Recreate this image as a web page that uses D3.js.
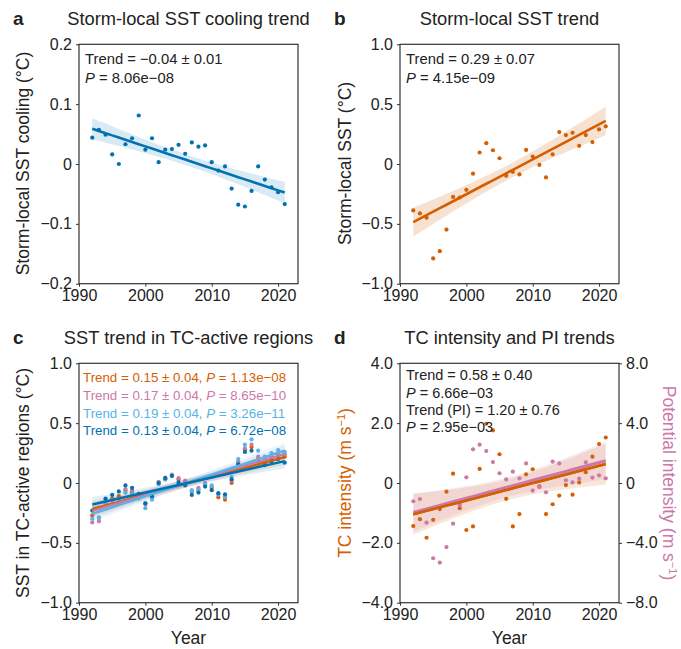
<!DOCTYPE html>
<html>
<head>
<meta charset="utf-8">
<script src="https://cdn.jsdelivr.net/npm/d3@7"></script>
<style>
  body { margin: 0; background: #fff; }
  svg text { font-family: "Liberation Sans", Arial, sans-serif; fill: #222; }
</style>
</head>
<body>
<svg id="fig" width="681" height="649"></svg>
<script>
// years shared by all panels
const years = [1992,1993,1994,1995,1996,1997,1998,1999,2000,2001,2002,2003,2004,2005,2006,
               2007,2008,2009,2010,2011,2012,2013,2014,2015,2016,2017,2018,2019,2020,2021];

// a: storm-local SST cooling
const coolingA = [0.044,0.057,0.049,0.016,0.000,0.033,0.043,0.081,0.024,0.043,0.003,0.024,0.025,0.032,0.017,
                  0.036,0.029,0.031,0.003,-0.011,-0.004,-0.041,-0.068,-0.071,-0.045,-0.004,-0.026,-0.039,-0.047,-0.067];
// b: storm-local SST
const sstB = [-0.388,-0.413,-0.449,-0.789,-0.728,-0.548,-0.275,-0.280,-0.216,-0.081,0.096,0.174,0.115,0.048,-0.098,
              -0.065,-0.087,0.118,0.062,-0.008,-0.112,0.081,0.267,0.242,0.261,0.152,0.242,0.183,0.289,0.315];
// c: SST in TC-active regions, four datasets
const sstC1 = [-0.27,-0.29,-0.15,-0.13,-0.11,-0.06,-0.08,-0.10,-0.17,-0.12,0.00,0.03,0.06,0.03,0.01,
               -0.07,-0.05,-0.01,-0.04,-0.12,-0.14,0.00,0.17,0.28,0.30,0.20,0.17,0.20,0.23,0.22];
const sstC2 = [-0.33,-0.32,-0.16,-0.14,-0.13,-0.05,-0.06,-0.10,-0.18,-0.12,0.01,0.045,0.07,0.04,0.02,
               -0.07,-0.04,0.00,-0.03,-0.10,-0.12,0.02,0.18,0.29,0.32,0.22,0.19,0.22,0.24,0.24];
const sstC3 = [-0.30,-0.29,-0.17,-0.15,-0.16,-0.08,-0.09,-0.13,-0.21,-0.14,-0.01,0.03,0.06,-0.01,-0.01,
               -0.06,-0.06,-0.01,-0.02,-0.09,-0.11,0.05,0.20,0.32,0.365,0.27,0.22,0.25,0.275,0.26];
const sstC4 = [-0.23,-0.21,-0.13,-0.10,-0.07,-0.02,-0.04,-0.09,-0.17,-0.11,0.00,0.04,0.06,0.005,-0.02,
               -0.10,-0.08,-0.03,-0.06,-0.085,-0.095,0.03,0.155,0.26,0.27,0.18,0.15,0.18,0.20,0.17];
const trendC = ["Trend = 0.15 ± 0.04, ", "Trend = 0.17 ± 0.04, ", "Trend = 0.19 ± 0.04, ", "Trend = 0.13 ± 0.04, "];
const pC = [" = 1.13e−08", " = 8.65e−10", " = 3.26e−11", " = 6.72e−08"];
// d: TC intensity (left axis) and potential intensity (right axis)
const tcInt = [-1.44,-1.21,-1.83,-1.23,-0.87,-0.29,0.31,-0.84,-1.57,-1.45,0.47,1.98,1.76,0.96,-0.53,
               -1.45,-1.04,0.29,0.46,-0.11,-1.04,-0.71,-0.42,-0.07,-0.39,0.02,0.36,0.88,1.30,1.52];
const potInt = [-1.22,-1.07,-2.65,-5.03,-5.32,-4.28,-2.72,-1.45,0.38,2.25,2.56,2.14,1.40,0.65,0.24,
                0.76,0.31,1.31,-0.51,-0.27,-0.62,1.43,1.31,0.18,0.04,0.29,1.38,0.36,0.51,0.31];

const xTicks = [1990, 2000, 2010, 2020];
const yTicksA = [-0.2, -0.1, 0, 0.1, 0.2];
const yLabelsA = ["−0.2", "−0.1", "0", "0.1", "0.2"];
const yTicksBC = [-1, -0.5, 0, 0.5, 1];
const yLabelsBC = ["−1.0", "−0.5", "0", "0.5", "1.0"];
const yTicksD = [-4, -2, 0, 2, 4];
const yLabelsD = ["−4.0", "−2.0", "0", "2.0", "4.0"];
const yTicksD2 = [-8, -4, 0, 4, 8];
const yLabelsD2 = ["−8.0", "−4.0", "0", "4.0", "8.0"];

const orange = "#D55E00", pink = "#CC79A7", skyblue = "#56B4E9", blue = "#0072B2";

let svg = d3.select("#fig");

// ordinary least squares + 95% band of the fitted mean
function fitTrend(xs, ys){
    let n = xs.length;
    let mx = d3.mean(xs), my = d3.mean(ys);
    let sxx = d3.sum(xs, x => (x - mx) * (x - mx));
    let sxy = d3.sum(xs.map((x, i) => (x - mx) * (ys[i] - my)));
    let b = sxy / sxx, a = my - b * mx;
    let s = Math.sqrt(d3.sum(xs.map((x, i) => Math.pow(ys[i] - a - b * x, 2))) / (n - 2));
    let t = 2.048;
    return xs.map(x => {
        let yh = a + b * x;
        let h = t * s * Math.sqrt(1 / n + (x - mx) * (x - mx) / sxx);
        return {x: x, y: yh, lo: yh - h, hi: yh + h};
    });
}

function makePanel(opt){
    let g = svg.append("g");
    let x = d3.scaleLinear().domain([1990, 2023]).range([opt.left, opt.left + 219]);
    let y = d3.scaleLinear().domain(opt.yDomain).range([opt.top + 239.4, opt.top]);

    g.append("g")
        .attr("transform", `translate(0,${opt.top + 239.4})`)
        .call(d3.axisBottom(x).tickValues(xTicks).tickFormat(d3.format("d")).tickSize(3).tickPadding(3))
        .call(ax => ax.select(".domain").remove());
    g.append("g")
        .attr("transform", `translate(${opt.left},0)`)
        .call(d3.axisLeft(y).tickValues(opt.yTicks).tickFormat((d, i) => opt.yLabels[i]).tickSize(3).tickPadding(4))
        .call(ax => ax.select(".domain").remove());
    g.selectAll(".tick line").attr("stroke", "#333").attr("stroke-width", 1);
    g.selectAll(".tick text").style("font-size", "16px").attr("fill", "#222");

    g.append("rect")
        .attr("x", opt.left).attr("y", opt.top)
        .attr("width", 219).attr("height", 239.4)
        .attr("fill", "none").attr("stroke", "#333").attr("stroke-width", 1.2);

    // panel letter and title
    g.append("text").attr("x", opt.left - 66).attr("y", opt.top - 19)
        .style("font-size", "19px").style("font-weight", "bold").text(opt.letter);
    g.append("text").attr("x", opt.left + 109.5).attr("y", opt.top - 19)
        .attr("text-anchor", "middle").style("font-size", "18.3px").text(opt.title);

    return {g: g, x: x, y: y};
}

function drawSeries(p, vals, color, yScale, bandOpacity){
    let fit = fitTrend(years, vals);
    let ys = yScale || p.y;
    p.g.append("path")
        .datum(fit)
        .attr("fill", color).attr("fill-opacity", bandOpacity)
        .attr("d", d3.area().x(d => p.x(d.x)).y0(d => ys(d.lo)).y1(d => ys(d.hi)));
    p.g.append("g").selectAll("circle")
        .data(vals)
        .enter().append("circle")
        .attr("cx", (d, i) => p.x(years[i]))
        .attr("cy", d => ys(d))
        .attr("r", 2.1)
        .attr("fill", color);
    return fit;
}

function drawLine(p, fit, color, yScale, w){
    let ys = yScale || p.y;
    p.g.append("path")
        .datum(fit)
        .attr("fill", "none").attr("stroke", color).attr("stroke-width", w || 2.6)
        .attr("d", d3.line().x(d => p.x(d.x)).y(d => ys(d.y)));
}

function yLabel(x, y, rot, parts, color){
    let t = svg.append("text")
        .attr("transform", `translate(${x},${y}) rotate(${rot})`)
        .attr("text-anchor", "middle")
        .style("font-size", "17.5px")
        .attr("fill", color || "#222");
    parts.forEach(pt => {
        let s = t.append("tspan").text(pt.t).attr("fill", color || "#222");
        if(pt.sup) s.attr("dy", -6).style("font-size", "11px");
        if(pt.after) s.attr("dy", 6);
    });
}

function annot(g, x, y, segs, color, size){
    let t = g.append("text").attr("x", x).attr("y", y).style("font-size", (size || 14.8) + "px").attr("fill", color);
    segs.forEach(s => {
        t.append("tspan").text(s.t).attr("fill", color).style("font-style", s.it ? "italic" : "normal");
    });
}

// ---- panel a
let pa = makePanel({left: 79, top: 44.3, yDomain: [-0.2, 0.2], yTicks: yTicksA, yLabels: yLabelsA,
    letter: "a", title: "Storm-local SST cooling trend"});
let fa = drawSeries(pa, coolingA, blue, null, 0.15);
drawLine(pa, fa, blue);
annot(pa.g, 85, 64, [{t: "Trend = −0.04 ± 0.01"}], "#222");
annot(pa.g, 85, 82.5, [{t: "P", it: true}, {t: " = 8.06e−08"}], "#222");
yLabel(29, 163.5, -90, [{t: "Storm-local SST cooling (°C)"}]);

// ---- panel b
let pb = makePanel({left: 400, top: 44.3, yDomain: [-1, 1], yTicks: yTicksBC, yLabels: yLabelsBC,
    letter: "b", title: "Storm-local SST trend"});
let fb = drawSeries(pb, sstB, orange, null, 0.18);
drawLine(pb, fb, orange);
annot(pb.g, 406, 64, [{t: "Trend = 0.29 ± 0.07"}], "#222");
annot(pb.g, 406, 82.5, [{t: "P", it: true}, {t: " = 4.15e−09"}], "#222");
yLabel(351, 163.5, -90, [{t: "Storm-local SST (°C)"}]);

// ---- panel c
let pc = makePanel({left: 79, top: 363.3, yDomain: [-1, 1], yTicks: yTicksBC, yLabels: yLabelsBC,
    letter: "c", title: "SST trend in TC-active regions"});
let cSeries = [sstC1, sstC2, sstC3, sstC4];
let cColors = [orange, pink, skyblue, blue];
let cFits = cSeries.map((s, i) => drawSeries(pc, s, cColors[i], null, 0.12));
cFits.forEach((f, i) => drawLine(pc, f, cColors[i], null, 2.4));
trendC.forEach((tr, i) => {
    annot(pc.g, 83, 382 + i * 17.8, [{t: tr}, {t: "P", it: true}, {t: pC[i]}], cColors[i], 13.3);
});
yLabel(29, 483, -90, [{t: "SST in TC-active regions (°C)"}]);
svg.append("text").attr("x", 188.5).attr("y", 644).attr("text-anchor", "middle")
    .style("font-size", "17.5px").text("Year");

// ---- panel d
let pd = makePanel({left: 400, top: 363.3, yDomain: [-4, 4], yTicks: yTicksD, yLabels: yLabelsD,
    letter: "d", title: "TC intensity and PI trends"});
let y2 = d3.scaleLinear().domain([-8, 8]).range([363.3 + 239.4, 363.3]);
pd.g.append("g")
    .attr("transform", "translate(619,0)")
    .call(d3.axisRight(y2).tickValues(yTicksD2).tickFormat((d, i) => yLabelsD2[i]).tickSize(3).tickPadding(4))
    .call(ax => ax.select(".domain").remove())
    .call(ax => ax.selectAll(".tick text").style("font-size", "16px").attr("fill", "#222"))
    .call(ax => ax.selectAll(".tick line").attr("stroke", "#333"));
let fdTC = drawSeries(pd, tcInt, orange, null, 0.15);
let fdPI = drawSeries(pd, potInt, pink, y2, 0.15);
drawLine(pd, fdTC, orange);
drawLine(pd, fdPI, pink, y2, 3.2);
drawLine(pd, fdTC, orange);
annot(pd.g, 406, 379.5, [{t: "Trend = 0.58 ± 0.40"}], "#222", 14.5);
annot(pd.g, 406, 397.5, [{t: "P", it: true}, {t: " = 6.66e−03"}], "#222", 14.5);
annot(pd.g, 406, 414.5, [{t: "Trend (PI) = 1.20 ± 0.76"}], "#222", 14.5);
annot(pd.g, 406, 431.5, [{t: "P", it: true}, {t: " = 2.95e−03"}], "#222", 14.5);
yLabel(351, 483, -90, [{t: "TC intensity (m s"}, {t: "−1", sup: true}, {t: ")", after: true}], orange);
yLabel(663, 483, 90, [{t: "Potential intensity (m s"}, {t: "−1", sup: true}, {t: ")", after: true}], pink);
svg.append("text").attr("x", 509.5).attr("y", 644).attr("text-anchor", "middle")
    .style("font-size", "17.5px").text("Year");
</script>
</body>
</html>
